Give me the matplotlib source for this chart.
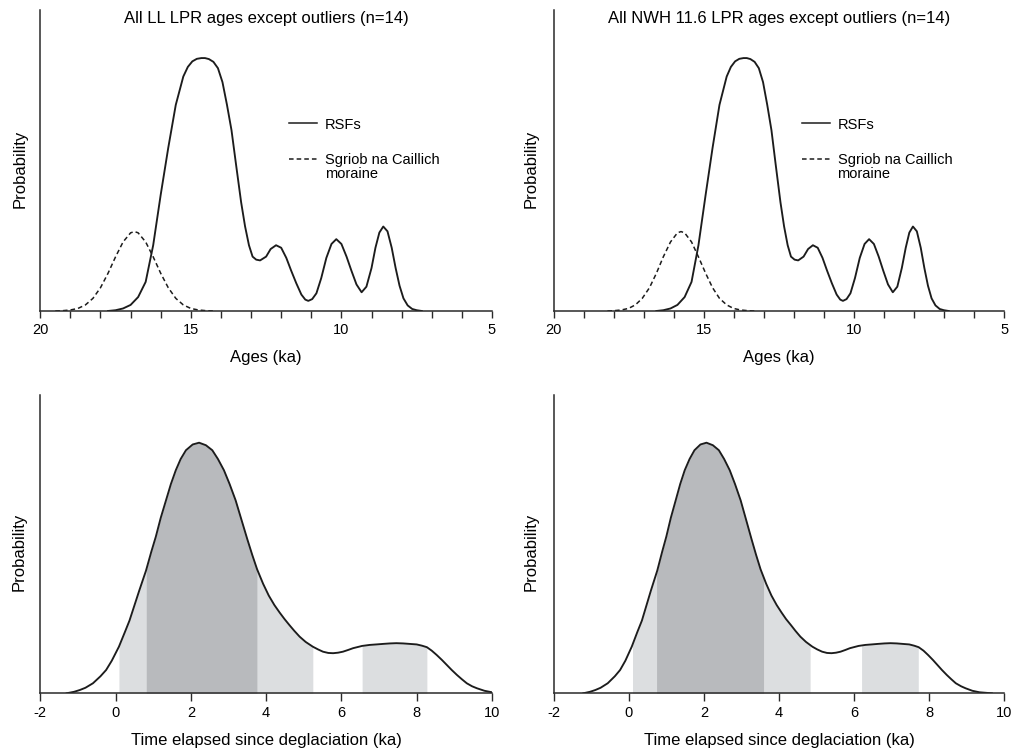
import numpy as np
import matplotlib
matplotlib.use("Agg")
import matplotlib.pyplot as plt

plt.rcParams['font.family'] = ['Liberation Sans', 'DejaVu Sans']

# ---------------- data ----------------
# Top-left: All LL LPR ages (RSF summed probability) and Sgriob na Caillich moraine
tl_age = [17.75, 17.5, 17.25, 17.0, 16.75, 16.5, 16.25, 16.0, 15.75, 15.5,
          15.25, 15.1, 14.95, 14.8, 14.65, 14.53, 14.4, 14.25, 14.1, 13.95,
          13.8, 13.65, 13.5, 13.33, 13.2, 13.07, 12.95, 12.83, 12.70, 12.5,
          12.35, 12.17, 12.0, 11.83, 11.67, 11.5, 11.33, 11.2, 11.1, 10.97,
          10.83, 10.67, 10.5, 10.33, 10.17, 10.0, 9.83, 9.67, 9.5, 9.33,
          9.17, 9.0, 8.87, 8.74, 8.61, 8.47, 8.33, 8.2, 8.07, 7.94,
          7.8, 7.65, 7.5, 7.33]
tl_rsf = [0.0, 0.003, 0.01, 0.024, 0.055, 0.115, 0.26, 0.46, 0.645, 0.815,
          0.927, 0.965, 0.987, 0.997, 1.0, 1.0, 0.996, 0.985, 0.96, 0.905,
          0.815, 0.715, 0.58, 0.43, 0.335, 0.26, 0.215, 0.203, 0.20, 0.215,
          0.245, 0.26, 0.25, 0.21, 0.16, 0.11, 0.065, 0.045, 0.04, 0.047,
          0.07, 0.13, 0.21, 0.265, 0.284, 0.265, 0.215, 0.16, 0.105, 0.074,
          0.096, 0.17, 0.25, 0.31, 0.334, 0.315, 0.25, 0.17, 0.10, 0.05,
          0.022, 0.008, 0.003, 0.0]
tl_sgr_age = [19.5, 19.25, 19.0, 18.75, 18.5, 18.25, 18.0, 17.75, 17.5, 17.25,
              17.0, 16.87, 16.75, 16.5, 16.25, 16.0, 15.75, 15.5, 15.25, 15.0,
              14.75, 14.5, 14.25]
tl_sgr = [0.0, 0.0013, 0.004, 0.010, 0.024, 0.050, 0.092, 0.149, 0.214, 0.273,
          0.309, 0.314, 0.309, 0.273, 0.214, 0.149, 0.092, 0.050, 0.024, 0.010,
          0.004, 0.0013, 0.0]

# Top-right: All NWH 11.6 LPR ages
tr_age = [16.58, 16.35, 16.11, 15.88, 15.64, 15.41, 15.18, 14.94, 14.71, 14.48,
          14.24, 14.10, 13.96, 13.82, 13.68, 13.57, 13.45, 13.31, 13.17, 13.03,
          12.89, 12.75, 12.61, 12.45, 12.33, 12.21, 12.10, 11.98, 11.86, 11.68,
          11.53, 11.37, 11.21, 11.05, 10.90, 10.74, 10.58, 10.46, 10.37, 10.25,
          10.12, 9.97, 9.81, 9.65, 9.50, 9.34, 9.18, 9.03, 8.87, 8.71,
          8.56, 8.41, 8.28, 8.16, 8.04, 7.91, 7.78, 7.66, 7.54, 7.42,
          7.29, 7.15, 7.01, 6.85]
tr_rsf = [0.0, 0.003, 0.01, 0.024, 0.055, 0.115, 0.26, 0.46, 0.645, 0.815,
          0.927, 0.965, 0.987, 0.997, 1.0, 1.0, 0.996, 0.985, 0.96, 0.905,
          0.815, 0.715, 0.58, 0.43, 0.335, 0.26, 0.215, 0.203, 0.20, 0.215,
          0.245, 0.26, 0.25, 0.21, 0.16, 0.11, 0.065, 0.045, 0.04, 0.047,
          0.07, 0.13, 0.21, 0.265, 0.284, 0.265, 0.215, 0.16, 0.105, 0.074,
          0.096, 0.17, 0.25, 0.31, 0.334, 0.315, 0.25, 0.17, 0.10, 0.05,
          0.022, 0.008, 0.003, 0.0]
tr_sgr_age = [18.21, 17.98, 17.75, 17.51, 17.28, 17.05, 16.81, 16.58, 16.35, 16.11,
              15.88, 15.76, 15.64, 15.41, 15.18, 14.94, 14.71, 14.48, 14.24, 14.01,
              13.78, 13.54, 13.31]
tr_sgr = [0.0, 0.0013, 0.004, 0.010, 0.024, 0.050, 0.092, 0.149, 0.214, 0.273,
          0.309, 0.314, 0.309, 0.273, 0.214, 0.149, 0.092, 0.050, 0.024, 0.010,
          0.004, 0.0013, 0.0]

# Bottom-left: time elapsed since deglaciation (LL)
bl_t = [-1.3, -1.1, -0.95, -0.8, -0.6, -0.4, -0.25, -0.1, 0.09, 0.25,
        0.37, 0.5, 0.63, 0.81, 0.95, 1.07, 1.2, 1.34, 1.47, 1.6,
        1.73, 1.87, 2.05, 2.22, 2.4, 2.57, 2.72, 2.88, 3.03, 3.19,
        3.35, 3.5, 3.63, 3.76, 3.92, 4.07, 4.22, 4.36, 4.49, 4.62,
        4.75, 4.89, 5.05, 5.24, 5.38, 5.51, 5.65, 5.78, 5.91, 6.04,
        6.18, 6.31, 6.55, 6.75, 6.93, 7.1, 7.29, 7.46, 7.64, 7.82,
        8.0, 8.14, 8.27, 8.4, 8.53, 8.67, 8.8, 8.93, 9.07, 9.2,
        9.33, 9.47, 9.6, 9.8, 10.0]
bl_p = [0.0, 0.006, 0.013, 0.022, 0.04, 0.068, 0.093, 0.13, 0.186, 0.245,
        0.29, 0.35, 0.41, 0.49, 0.565, 0.625, 0.70, 0.77, 0.835, 0.89,
        0.935, 0.97, 0.993, 1.0, 0.99, 0.97, 0.935, 0.89, 0.835, 0.77,
        0.69, 0.615, 0.553, 0.495, 0.437, 0.39, 0.352, 0.322, 0.296, 0.272,
        0.249, 0.226, 0.205, 0.186, 0.175, 0.166, 0.161, 0.16, 0.162, 0.166,
        0.173, 0.18, 0.189, 0.193, 0.195, 0.197, 0.199, 0.2, 0.199, 0.197,
        0.195, 0.19, 0.184, 0.17, 0.153, 0.133, 0.113, 0.093, 0.073, 0.056,
        0.04, 0.028, 0.02, 0.01, 0.004]
bl_dark = [0.81, 3.76]
bl_light = [[0.09, 0.81], [3.76, 5.24], [6.55, 8.27]]

# Bottom-right: time elapsed since deglaciation (NWH 11.6)
br_t = [-1.21, -1.03, -0.89, -0.75, -0.56, -0.37, -0.23, -0.09, 0.08, 0.23,
        0.35, 0.47, 0.59, 0.76, 0.89, 1.0, 1.12, 1.25, 1.37, 1.49,
        1.62, 1.75, 1.91, 2.07, 2.24, 2.4, 2.54, 2.69, 2.83, 2.98,
        3.13, 3.27, 3.39, 3.51, 3.66, 3.8, 3.94, 4.07, 4.19, 4.32,
        4.44, 4.57, 4.72, 4.89, 5.02, 5.15, 5.28, 5.4, 5.52, 5.64,
        5.77, 5.89, 6.12, 6.3, 6.47, 6.63, 6.81, 6.97, 7.14, 7.3,
        7.47, 7.6, 7.72, 7.85, 7.97, 8.1, 8.22, 8.34, 8.47, 8.59,
        8.71, 8.85, 8.97, 9.15, 9.34, 9.67]
br_p = [0.0, 0.006, 0.013, 0.022, 0.04, 0.068, 0.093, 0.13, 0.186, 0.245,
        0.29, 0.35, 0.41, 0.49, 0.565, 0.625, 0.70, 0.77, 0.835, 0.89,
        0.935, 0.97, 0.993, 1.0, 0.99, 0.97, 0.935, 0.89, 0.835, 0.77,
        0.69, 0.615, 0.553, 0.495, 0.437, 0.39, 0.352, 0.322, 0.296, 0.272,
        0.249, 0.226, 0.205, 0.186, 0.175, 0.166, 0.161, 0.16, 0.162, 0.166,
        0.173, 0.18, 0.189, 0.193, 0.195, 0.197, 0.199, 0.2, 0.199, 0.197,
        0.195, 0.19, 0.184, 0.17, 0.153, 0.133, 0.113, 0.093, 0.073, 0.056,
        0.04, 0.028, 0.02, 0.01, 0.004, 0.0]
br_dark = [0.74, 3.59]
br_light = [[0.10, 0.74], [3.59, 4.83], [6.20, 7.71]]

titles = ["All LL LPR ages except outliers (n=14)",
          "All NWH 11.6 LPR ages except outliers (n=14)"]
legend_labels = ["RSFs", "Sgriob na Caillich\nmoraine"]
top_ticks = [20, 15, 10, 5]
bottom_ticks = [-2, 0, 2, 4, 6, 8, 10]

# ---------------- styling ----------------
INK = '#1c1c1c'
AXC = '#2a2a2a'
LIGHT = '#dcdee0'
DARK = '#b8babd'
LW = 1.35
TICKFS = 10.5

fig = plt.figure(figsize=(10.14, 7.53), dpi=100)

def style_axes(ax):
    for s in ['top', 'right']:
        ax.spines[s].set_visible(False)
    for s in ['left', 'bottom']:
        ax.spines[s].set_color(AXC)
        ax.spines[s].set_linewidth(1.1)
    ax.set_yticks([])
    ax.set_ylim(0, 1.19)

def top_panel(rect, age, rsf, sgr_age, sgr, title, ylab_x):
    ax = fig.add_axes(rect)
    style_axes(ax)
    ax.set_xlim(20, 5)
    ax.set_xticks(top_ticks)
    ax.set_xticklabels([str(v) for v in top_ticks], fontsize=TICKFS)
    ax.set_xticks(np.arange(5, 21, 1), minor=True)
    ax.tick_params(axis='x', which='both', direction='out', length=5,
                   width=1.0, color=AXC, pad=4)
    ax.plot(sgr_age, sgr, color=INK, lw=1.1, ls=(0, (3, 2)))
    ax.plot(age, rsf, color=INK, lw=LW)
    ax.text(0.5, 0.973, title, transform=ax.transAxes, ha='center',
            va='center', fontsize=12)
    ax.text(0.5, -0.154, "Ages (ka)", transform=ax.transAxes, ha='center',
            va='center', fontsize=12)
    ax.text(ylab_x, 0.473, "Probability", transform=ax.transAxes,
            ha='center', va='center', rotation=90, fontsize=12)
    # legend
    ax.plot([0.551, 0.613], [0.625, 0.625], transform=ax.transAxes,
            color=INK, lw=1.1)
    ax.plot([0.551, 0.613], [0.504, 0.504], transform=ax.transAxes,
            color=INK, lw=1.1, ls=(0, (3, 2)))
    ax.text(0.630, 0.617, legend_labels[0], transform=ax.transAxes,
            ha='left', va='center', fontsize=10.5)
    ax.text(0.630, 0.478, legend_labels[1], transform=ax.transAxes,
            ha='left', va='center', fontsize=10.5, linespacing=1.0)
    return ax

def band(ax, t, p, a, b, color):
    t = np.asarray(t)
    p = np.asarray(p)
    inside = t[(t > a) & (t < b)]
    tt = np.concatenate([[a], inside, [b]])
    pp = np.interp(tt, t, p)
    ax.fill_between(tt, 0, pp, color=color, lw=0)

def bottom_panel(rect, t, p, dark, light, ylab_x):
    ax = fig.add_axes(rect)
    style_axes(ax)
    ax.set_xlim(-2, 10)
    ax.set_xticks(bottom_ticks)
    ax.set_xticklabels([str(v) for v in bottom_ticks], fontsize=TICKFS)
    ax.tick_params(axis='x', direction='out', length=6, width=1.0,
                   color=AXC, pad=3)
    for a, b in light:
        band(ax, t, p, a, b, LIGHT)
    band(ax, t, p, dark[0], dark[1], DARK)
    ax.plot(t, p, color=INK, lw=LW)
    ax.text(0.5, -0.16, "Time elapsed since deglaciation (ka)",
            transform=ax.transAxes, ha='center', va='center', fontsize=12)
    ax.text(ylab_x, 0.475, "Probability", transform=ax.transAxes,
            ha='center', va='center', rotation=90, fontsize=12)
    return ax

top_panel([0.0397, 0.587, 0.4455, 0.3997], tl_age, tl_rsf, tl_sgr_age, tl_sgr,
          titles[0], -0.045)
top_panel([0.546, 0.587, 0.4444, 0.3997], tr_age, tr_rsf, tr_sgr_age, tr_sgr,
          titles[1], -0.049)
bottom_panel([0.0397, 0.0793, 0.4455, 0.396], bl_t, bl_p, bl_dark, bl_light,
             -0.046)
bottom_panel([0.546, 0.0793, 0.4444, 0.396], br_t, br_p, br_dark, br_light,
             -0.049)

fig.savefig("out.png", dpi=100)
